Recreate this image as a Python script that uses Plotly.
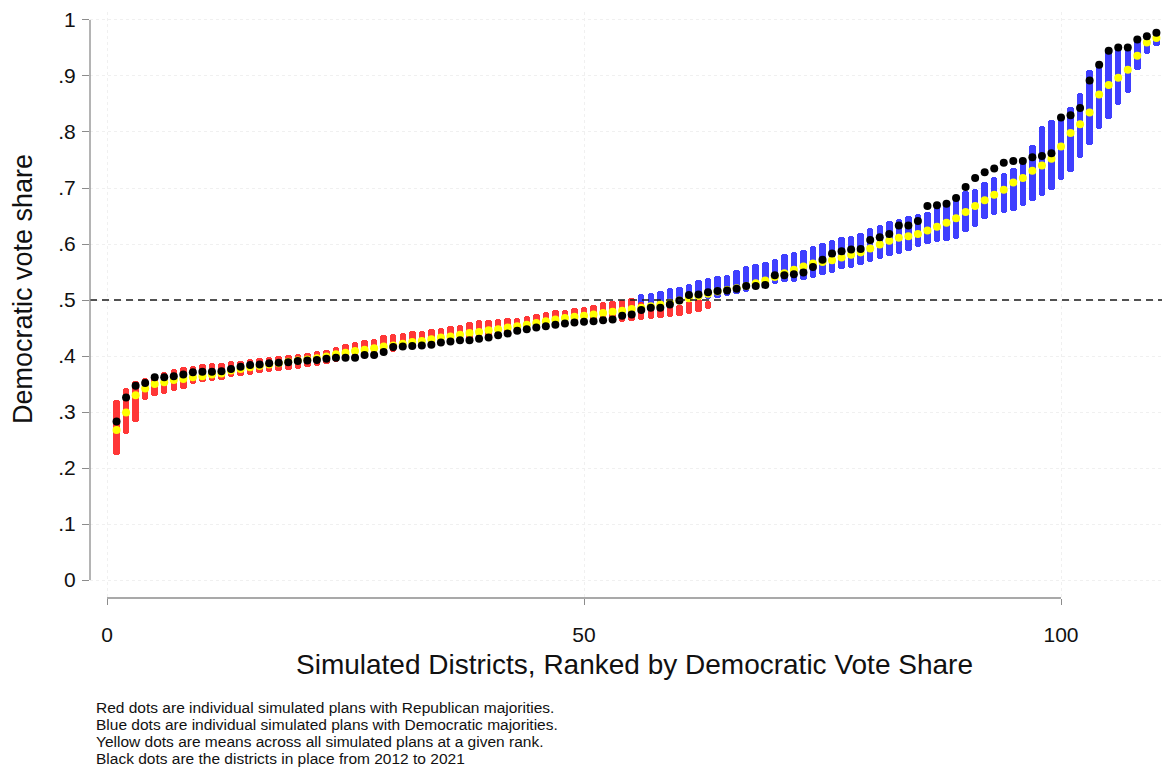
import plotly.graph_objects as go

# ---------------- data ----------------
districts = list(range(1, 111))

# Red: simulated plans with Republican majorities (range per rank), districts 1..63
red_x = list(range(1, 64))
red_high = [0.322, 0.343, 0.356, 0.361, 0.368, 0.372, 0.376, 0.381, 0.383, 0.385,
            0.387, 0.388, 0.391, 0.392, 0.394, 0.397, 0.399, 0.400, 0.402, 0.404,
            0.406, 0.409, 0.411, 0.416, 0.422, 0.425, 0.428, 0.431, 0.437, 0.440,
            0.442, 0.444, 0.445, 0.448, 0.450, 0.453, 0.456, 0.460, 0.464, 0.465,
            0.466, 0.468, 0.468, 0.472, 0.475, 0.478, 0.482, 0.483, 0.485, 0.488,
            0.491, 0.496, 0.498, 0.500, 0.503, 0.496, 0.493, 0.490, 0.492, 0.492,
            0.498, 0.501, 0.498]
red_low = [0.224, 0.261, 0.282, 0.322, 0.329, 0.332, 0.337, 0.341, 0.350, 0.353,
           0.355, 0.357, 0.362, 0.365, 0.366, 0.369, 0.372, 0.374, 0.375, 0.377,
           0.380, 0.383, 0.385, 0.390, 0.393, 0.396, 0.399, 0.402, 0.405, 0.408,
           0.411, 0.414, 0.416, 0.418, 0.420, 0.423, 0.426, 0.429, 0.432, 0.434,
           0.436, 0.438, 0.440, 0.443, 0.446, 0.449, 0.452, 0.452, 0.454, 0.455,
           0.457, 0.458, 0.459, 0.460, 0.462, 0.464, 0.466, 0.468, 0.470, 0.472,
           0.475, 0.478, 0.484]

# Blue: simulated plans with Democratic majorities, districts 56..110
blue_x = list(range(56, 111))
blue_high = [0.510, 0.512, 0.516, 0.521, 0.524, 0.528, 0.536, 0.539, 0.542, 0.545,
             0.553, 0.560, 0.565, 0.567, 0.573, 0.582, 0.586, 0.590, 0.596, 0.601,
             0.608, 0.612, 0.614, 0.620, 0.629, 0.634, 0.641, 0.645, 0.650, 0.653,
             0.658, 0.666, 0.673, 0.681, 0.694, 0.699, 0.711, 0.720, 0.727, 0.735,
             0.744, 0.777, 0.810, 0.822, 0.830, 0.845, 0.870, 0.910, 0.925, 0.945,
             0.949, 0.950, 0.962, 0.970, 0.976]
blue_low = [0.488, 0.490, 0.492, 0.494, 0.496, 0.498, 0.500, 0.502, 0.504, 0.507,
            0.511, 0.515, 0.520, 0.524, 0.528, 0.533, 0.533, 0.536, 0.540, 0.544,
            0.549, 0.555, 0.558, 0.562, 0.568, 0.574, 0.579, 0.583, 0.588, 0.594,
            0.600, 0.603, 0.606, 0.609, 0.622, 0.630, 0.645, 0.651, 0.656, 0.659,
            0.667, 0.676, 0.685, 0.697, 0.715, 0.729, 0.753, 0.777, 0.805, 0.824,
            0.848, 0.869, 0.910, 0.940, 0.953]

# Yellow: mean across all simulated plans at each rank
mean_share = [0.268, 0.299, 0.330, 0.342, 0.350, 0.353, 0.357, 0.359, 0.362, 0.364,
              0.367, 0.369, 0.374, 0.377, 0.380, 0.382, 0.385, 0.387, 0.390, 0.392,
              0.394, 0.396, 0.399, 0.403, 0.406, 0.409, 0.411, 0.414, 0.417, 0.419,
              0.422, 0.425, 0.427, 0.430, 0.433, 0.435, 0.438, 0.441, 0.443, 0.446,
              0.448, 0.451, 0.453, 0.456, 0.459, 0.462, 0.465, 0.468, 0.470, 0.472,
              0.474, 0.477, 0.479, 0.481, 0.484, 0.486, 0.489, 0.492, 0.495, 0.499,
              0.503, 0.507, 0.511, 0.515, 0.518, 0.521, 0.525, 0.530, 0.535, 0.541,
              0.548, 0.554, 0.560, 0.565, 0.568, 0.571, 0.576, 0.581, 0.585, 0.592,
              0.599, 0.606, 0.611, 0.614, 0.618, 0.624, 0.631, 0.638, 0.646, 0.657,
              0.668, 0.678, 0.688, 0.697, 0.710, 0.718, 0.731, 0.740, 0.752, 0.774,
              0.798, 0.814, 0.835, 0.867, 0.884, 0.897, 0.911, 0.936, 0.960, 0.968]

# Black: actual districts 2012-2021
actual_share = [0.283, 0.326, 0.347, 0.352, 0.362, 0.362, 0.364, 0.367, 0.371, 0.372,
                0.372, 0.373, 0.377, 0.381, 0.384, 0.385, 0.387, 0.388, 0.389, 0.391,
                0.392, 0.393, 0.395, 0.397, 0.397, 0.397, 0.402, 0.402, 0.407, 0.416,
                0.417, 0.418, 0.419, 0.420, 0.424, 0.426, 0.428, 0.428, 0.431, 0.433,
                0.437, 0.440, 0.445, 0.448, 0.451, 0.453, 0.456, 0.458, 0.460, 0.461,
                0.462, 0.464, 0.465, 0.472, 0.474, 0.482, 0.486, 0.486, 0.492, 0.499,
                0.509, 0.510, 0.514, 0.516, 0.517, 0.520, 0.525, 0.525, 0.527, 0.544,
                0.544, 0.546, 0.549, 0.559, 0.572, 0.583, 0.587, 0.590, 0.591, 0.607,
                0.612, 0.618, 0.633, 0.633, 0.641, 0.668, 0.669, 0.672, 0.682, 0.702,
                0.718, 0.728, 0.735, 0.745, 0.748, 0.748, 0.755, 0.757, 0.762, 0.826,
                0.830, 0.843, 0.892, 0.920, 0.945, 0.951, 0.951, 0.965, 0.971, 0.977]

y_ticks = [0, 0.1, 0.2, 0.3, 0.4, 0.5, 0.6, 0.7, 0.8, 0.9, 1]
y_tick_text = ["0", ".1", ".2", ".3", ".4", ".5", ".6", ".7", ".8", ".9", "1"]
x_ticks = [0, 50, 100]
x_tick_text = ["0", "50", "100"]

note_lines = [
    "Red dots are individual simulated plans with Republican majorities.",
    "Blue dots are individual simulated plans with Democratic majorities.",
    "Yellow dots are means across all simulated plans at a given rank.",
    "Black dots are the districts in place from 2012 to 2021",
]

FONT = "Liberation Sans, Arial, sans-serif"

# plot area in page pixels (page body has an 8px margin)
PL, PR, PT, PB = 90, 1170, 10, 598
PW, PH = PR - PL, PB - PT


def px_x(px):
    return (px - PL) / PW


def px_y(py):
    return (PB - py) / PH


# ---------------- figure ----------------
fig = go.Figure()

fig.add_trace(go.Bar(
    x=blue_x, base=blue_low, y=[h - l for h, l in zip(blue_high, blue_low)],
    width=0.68, marker=dict(color="#3535ff", line=dict(width=0), cornerradius=3),
    opacity=0.95, hoverinfo="skip", showlegend=False))

fig.add_trace(go.Bar(
    x=red_x, base=red_low, y=[h - l for h, l in zip(red_high, red_low)],
    width=0.68, marker=dict(color="#ff2d2d", line=dict(width=0), cornerradius=3),
    opacity=0.95, hoverinfo="skip", showlegend=False))

fig.add_trace(go.Scatter(
    x=districts, y=mean_share, mode="markers",
    marker=dict(color="#ffff00", size=8, line=dict(width=0)),
    hoverinfo="skip", showlegend=False))

fig.add_trace(go.Scatter(
    x=districts, y=actual_share, mode="markers",
    marker=dict(color="#000000", size=8, line=dict(width=0)),
    hoverinfo="skip", showlegend=False))

# dashed 50% line
fig.add_shape(type="line", xref="paper", x0=0, x1=1, yref="y", y0=0.5, y1=0.5,
              line=dict(color="#1a1a1a", width=1.7, dash="7px,5px"), layer="above")

# axis lines spanning only the tick range (Stata style)
fig.add_shape(type="line", xref="paper", x0=0, x1=0, yref="y", y0=0, y1=1,
              line=dict(color="#8c8c8c", width=1.3))
fig.add_shape(type="line", xref="x", x0=0, x1=100, yref="paper", y0=0, y1=0,
              line=dict(color="#8c8c8c", width=1.3))

# axis titles
fig.add_annotation(text="Democratic vote share", xref="paper", yref="paper",
                   x=px_x(23), y=px_y(288), textangle=-90, showarrow=False,
                   xanchor="center", yanchor="middle",
                   font=dict(family=FONT, size=27, color="#111111"))
fig.add_annotation(text="Simulated Districts, Ranked by Democratic Vote Share",
                   xref="paper", yref="paper", x=px_x(634), y=px_y(665),
                   showarrow=False, xanchor="center", yanchor="middle",
                   font=dict(family=FONT, size=28, color="#111111"))

# note
for i, line in enumerate(note_lines):
    fig.add_annotation(text=line, xref="paper", yref="paper",
                       x=px_x(94), y=px_y(708 + 17 * i),
                       showarrow=False, xanchor="left", yanchor="middle",
                       font=dict(family=FONT, size=15.5, color="#111111"))

fig.update_layout(
    width=1162, height=764,
    margin=dict(l=PL - 8, r=0, t=PT - 8, b=764 + 8 - PB),
    paper_bgcolor="white", plot_bgcolor="white",
    barmode="overlay", bargap=0,
    font=dict(family=FONT, color="#111111"),
    showlegend=False,
)

fig.update_xaxes(
    range=[-17 / 9.54, (1170 - 107) / 9.54],
    tickvals=x_ticks, ticktext=x_tick_text,
    ticks="outside", ticklen=6, tickwidth=1.3, tickcolor="#8c8c8c",
    tickfont=dict(family=FONT, size=21, color="#111111"),
    ticklabelstandoff=12, ticklabeloverflow="allow",
    showline=False, zeroline=False,
    showgrid=True, gridcolor="#f0f0f0", griddash="dot", gridwidth=1,
)
fig.update_yaxes(
    range=[-18 / 562, 1 + 8 / 562],
    tickvals=y_ticks, ticktext=y_tick_text,
    ticks="outside", ticklen=7, tickwidth=1.3, tickcolor="#8c8c8c",
    tickfont=dict(family=FONT, size=21, color="#111111"),
    ticklabelstandoff=2, ticklabeloverflow="allow",
    showline=False, zeroline=False,
    showgrid=True, gridcolor="#f0f0f0", griddash="dot", gridwidth=1,
)

fig.write_html("out.html")
